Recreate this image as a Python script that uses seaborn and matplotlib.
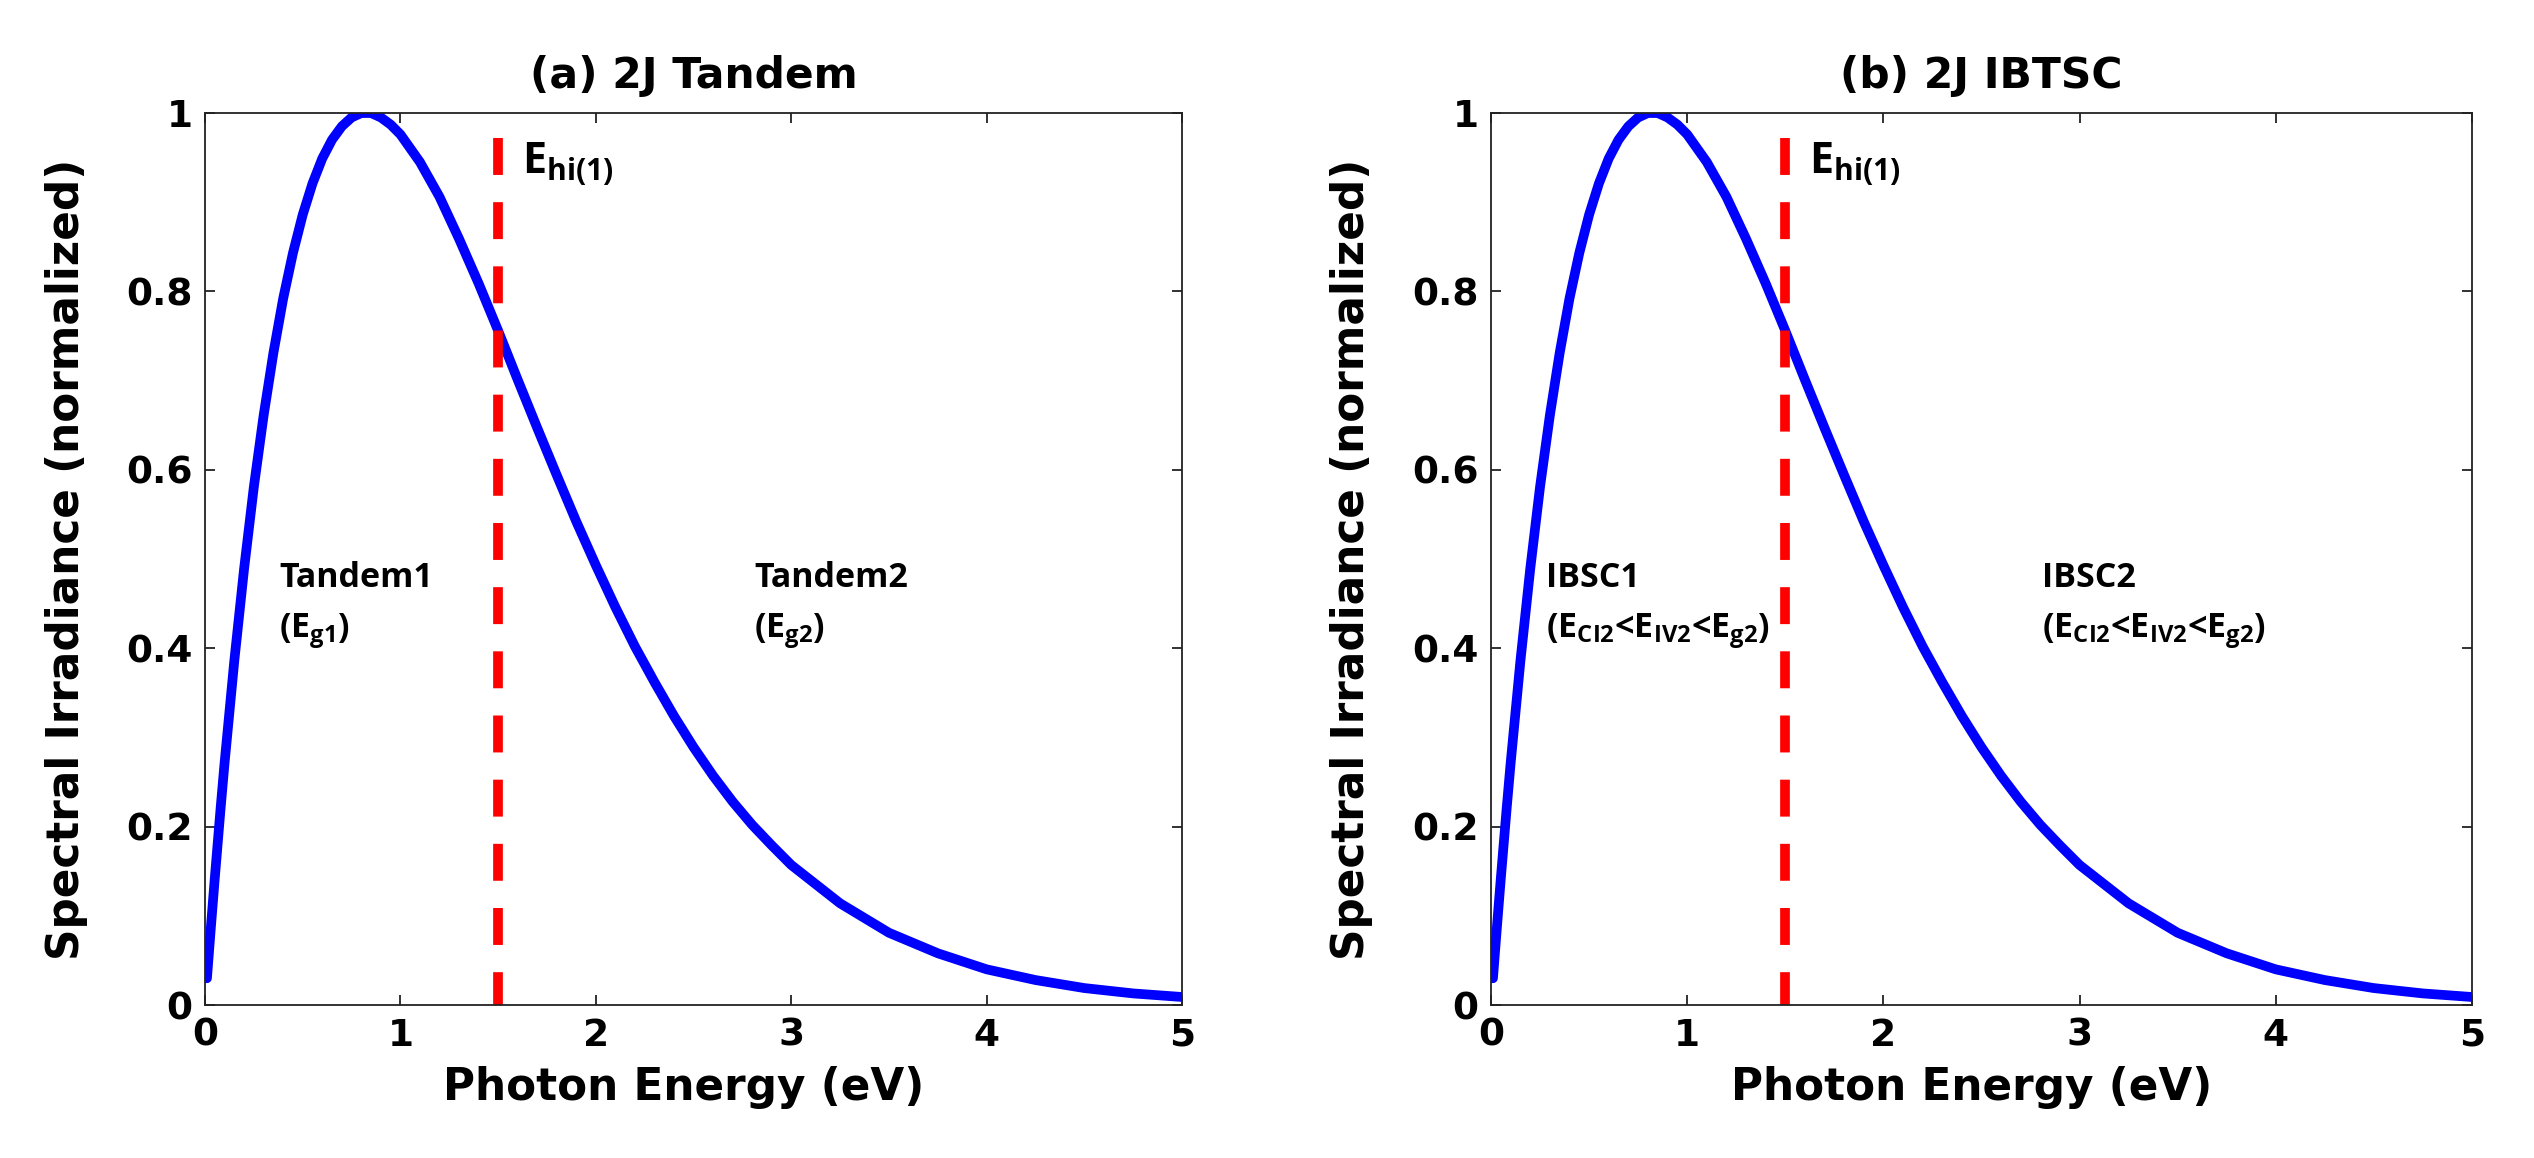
import matplotlib
matplotlib.use("Agg")
import matplotlib.pyplot as plt
import seaborn as sns

# normalized spectral irradiance
energy = [0.01, 0.03, 0.05, 0.08, 0.1, 0.15, 0.2, 0.25, 0.3, 0.35,
          0.4, 0.45, 0.5, 0.55, 0.6, 0.65, 0.7, 0.75, 0.8, 0.85,
          0.9, 0.95, 1.0, 1.1, 1.2, 1.3, 1.4, 1.5, 1.6, 1.7,
          1.8, 1.9, 2.0, 2.1, 2.2, 2.3, 2.4, 2.5, 2.6, 2.7,
          2.8, 2.9, 3.0, 3.25, 3.5, 3.75, 4.0, 4.25, 4.5, 4.75, 5.0]
irradiance = [0.030, 0.087, 0.142, 0.221, 0.271, 0.386, 0.489, 0.581, 0.661, 0.731,
              0.792, 0.843, 0.886, 0.921, 0.949, 0.970, 0.985, 0.995, 1.000, 1.000,
              0.995, 0.987, 0.976, 0.945, 0.906, 0.859, 0.809, 0.756, 0.701, 0.647,
              0.594, 0.542, 0.493, 0.446, 0.402, 0.362, 0.324, 0.289, 0.257, 0.228,
              0.202, 0.179, 0.157, 0.114, 0.081, 0.058, 0.040, 0.028, 0.019, 0.013, 0.009]

e_hi = 1.5
e_hi_top = 0.972

panel_titles = ["(a) 2J Tandem", "(b) 2J IBTSC"]
left_names = ["Tandem1", "IBSC1"]
left_subs = [r"(E$_{g1}$)", r"(E$_{CI2}$<E$_{IV2}$<E$_{g2}$)"]
right_names = ["Tandem2", "IBSC2"]
right_subs = [r"(E$_{g2}$)", r"(E$_{CI2}$<E$_{IV2}$<E$_{g2}$)"]
left_x = [0.38, 0.28]
right_x = [2.81, 2.81]

x_ticks = [0, 1, 2, 3, 4, 5]
y_ticks = [0, 0.2, 0.4, 0.6, 0.8, 1]
y_tick_labels = ["0", "0.2", "0.4", "0.6", "0.8", "1"]

sns.set_theme(style="ticks")
plt.rcParams["font.family"] = ["DejaVu Sans"]
plt.rcParams["font.weight"] = "bold"
plt.rcParams["text.color"] = "black"
plt.rcParams["axes.labelcolor"] = "black"
plt.rcParams["mathtext.fontset"] = "custom"
plt.rcParams["mathtext.rm"] = "Open Sans:bold"
plt.rcParams["mathtext.it"] = "Open Sans:bold"
plt.rcParams["mathtext.bf"] = "Open Sans:bold"
plt.rcParams["mathtext.default"] = "rm"

fig, axes = plt.subplots(1, 2, figsize=(25.34, 11.58), dpi=100)
positions = [[0.0809, 0.1321, 0.3856, 0.7703], [0.5884, 0.1321, 0.3871, 0.7703]]

for i, ax in enumerate(axes):
    ax.set_position(positions[i])
    sns.lineplot(x=energy, y=irradiance, ax=ax, color="blue", linewidth=7)
    ax.plot([e_hi, e_hi], [e_hi_top, 0], color="red", linewidth=7,
            linestyle=(0, (3.8, 2.8)), solid_capstyle="butt", dash_capstyle="butt")

    ax.set_xlim(0, 5)
    ax.set_ylim(0, 1)
    ax.set_xticks(x_ticks)
    ax.set_yticks(y_ticks)
    ax.set_yticklabels(y_tick_labels)
    ax.tick_params(direction="in", length=7, width=1.3, top=True, right=True,
                   labelsize=27, pad=9, colors="#222222", labelcolor="black")
    for lab in ax.get_xticklabels() + ax.get_yticklabels():
        lab.set_fontweight("bold")
    for sp in ax.spines.values():
        sp.set_visible(True)
        sp.set_linewidth(1.3)
        sp.set_color("#222222")

    ax.set_title(panel_titles[i], fontsize=30.5, fontweight="bold", pad=18, color="black")
    ax.set_xlabel("Photon Energy (eV)", fontsize=31.5, fontweight="bold")
    ax.set_ylabel("Spectral Irradiance (normalized)", fontsize=31.5, fontweight="bold")
    ax.xaxis.set_label_coords(0.49, -0.068)
    ax.yaxis.set_label_coords(-0.12, 0.5)

    txt = dict(fontfamily="Open Sans", fontweight="bold", fontsize=24.5,
               va="baseline", color="black")
    ax.text(left_x[i], 0.469, left_names[i], **txt)
    ax.text(left_x[i], 0.411, left_subs[i], **txt)
    ax.text(right_x[i], 0.469, right_names[i], **txt)
    ax.text(right_x[i], 0.411, right_subs[i], **txt)
    ax.text(1.62, 0.932, r"E$_{hi(1)}$", fontfamily="Open Sans", fontweight="bold",
            fontsize=31, va="baseline", color="black")

fig.savefig("out.png", dpi=100, facecolor="white")
